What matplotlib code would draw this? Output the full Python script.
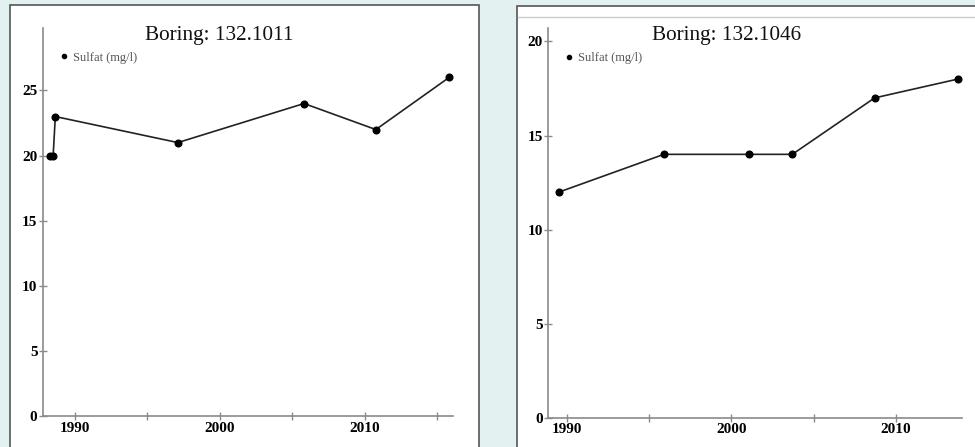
import numpy as np
import matplotlib
matplotlib.use('Agg')
import matplotlib.pyplot as plt
from matplotlib.lines import Line2D
from matplotlib.patches import Rectangle
from matplotlib.ticker import MultipleLocator

# data
years_1011 = [1988.3, 1988.5, 1988.65, 1997.1, 2005.8, 2010.75, 2015.8]
sulfat_1011 = [20, 20, 23, 21, 24, 22, 26]

years_1046 = [1989.55, 1995.9, 2001.05, 2003.7, 2008.7, 2013.75]
sulfat_1046 = [12, 14, 14, 14, 17, 18]

W, H = 975, 447
plt.rcParams['font.family'] = ['Liberation Serif', 'DejaVu Serif']

fig = plt.figure(figsize=(W / 100, H / 100), dpi=100)
fig.patch.set_facecolor('#e4f1f1')

def px(x0, y0, w, h):
    # pixel box (top-left origin) -> figure fraction
    return [x0 / W, 1 - (y0 + h) / H, w / W, h / H]

# white panel boxes (behind the axes)
fig.patches.append(Rectangle((10 / W, -0.05), 469 / W, 1.05 - 5 / H, transform=fig.transFigure,
                             facecolor='white', edgecolor='#555555', lw=1.2, zorder=-5))
fig.patches.append(Rectangle((517 / W, -0.05), 0.6, 1.05 - 6 / H, transform=fig.transFigure,
                             facecolor='white', edgecolor='#555555', lw=1.2, zorder=-5))
fig.lines.append(Line2D([518 / W, 1], [1 - 17 / H, 1 - 17 / H], transform=fig.transFigure,
                        color='#cccccc', lw=1, zorder=-4))


def panel(rect, years, vals, xlim, ylim, ymax_tick, title, title_x):
    ax = fig.add_axes(rect)
    ax.patch.set_alpha(0)
    ax.plot(years, vals, color='#222222', lw=1.2, marker='o', ms=4.8, mfc='black', mec='black')
    ax.set_xlim(*xlim)
    ax.set_ylim(*ylim)
    ax.set_yticks(np.arange(0, ymax_tick + 1, 5))
    ax.xaxis.set_major_locator(MultipleLocator(10))
    ax.xaxis.set_minor_locator(MultipleLocator(5))
    for s in ['top', 'right']:
        ax.spines[s].set_visible(False)
    for s in ['left', 'bottom']:
        ax.spines[s].set_color('#8a8a8a')
        ax.spines[s].set_linewidth(1.2)
    ax.tick_params(which='both', direction='inout', length=6, width=1, color='#8a8a8a',
                   labelsize=11, pad=1)
    for lab in ax.get_xticklabels() + ax.get_yticklabels():
        lab.set_fontweight('bold')
    h = Line2D([], [], color='black', marker='o', ms=3, lw=0)
    leg = ax.legend([h], ['Sulfat (mg/l)'], loc='upper left', bbox_to_anchor=(0.03, 0.952),
                    frameon=False, handlelength=0.6, handletextpad=0.4, borderaxespad=0,
                    prop={'size': 9})
    for t in leg.get_texts():
        t.set_color('#555555')
    fig.text(title_x / W, 1 - 40 / H, title, ha='center', va='baseline', fontsize=15.3,
             color='#111111')
    return ax


panel(px(43, 28, 410, 388), years_1011, sulfat_1011, (1987.8, 2016.07), (0, 29.8), 25,
      'Boring: 132.1011', 219.5)
panel(px(548.3, 28.3, 413.4, 389.4), years_1046, sulfat_1046, (1988.88, 2013.99), (0, 20.7), 20,
      'Boring: 132.1046', 727)

fig.savefig('out.png', dpi=100, facecolor=fig.get_facecolor())
